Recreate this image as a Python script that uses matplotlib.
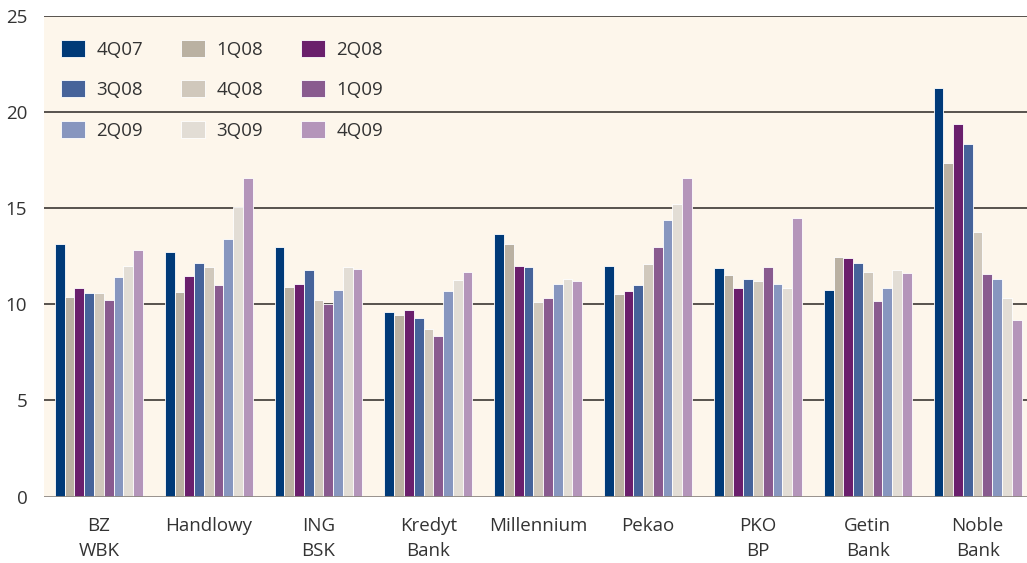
import matplotlib
matplotlib.use("Agg")
import matplotlib.pyplot as plt
import numpy as np

plt.rcParams['font.family'] = ['Open Sans', 'DejaVu Sans']

banks = ["BZ\nWBK", "Handlowy", "ING\nBSK", "Kredyt\nBank", "Millennium",
         "Pekao", "PKO\nBP", "Getin\nBank", "Noble\nBank"]
quarters = ["4Q07", "1Q08", "2Q08", "3Q08", "4Q08", "1Q09", "2Q09", "3Q09", "4Q09"]

# one row per quarter, one value per bank
q4_07 = [13.13, 12.71, 13.00, 9.59, 13.66, 12.00, 11.91, 10.77, 21.26]
q1_08 = [10.40, 10.65, 10.88, 9.43, 13.14, 10.55, 11.55, 12.48, 17.37]
q2_08 = [10.86, 11.48, 11.08, 9.69, 12.00, 10.71, 10.83, 12.43, 19.39]
q3_08 = [10.60, 12.15, 11.81, 9.28, 11.95, 11.02, 11.34, 12.17, 18.36]
q4_08 = [10.60, 11.94, 10.21, 8.71, 10.14, 12.11, 11.19, 11.70, 13.74]
q1_09 = [10.24, 11.01, 10.00, 8.35, 10.35, 12.99, 11.96, 10.15, 11.56]
q2_09 = [11.43, 13.38, 10.77, 10.67, 11.07, 14.39, 11.08, 10.83, 11.30]
q3_09 = [11.99, 15.08, 11.96, 11.24, 11.33, 15.22, 10.83, 11.76, 10.31]
q4_09 = [12.82, 16.58, 11.86, 11.70, 11.23, 16.56, 14.49, 11.65, 9.17]
series = [q4_07, q1_08, q2_08, q3_08, q4_08, q1_09, q2_09, q3_09, q4_09]

colors = ["#003a78", "#bab1a2", "#6a1f6c", "#46639a", "#d0c8bc",
          "#895b8f", "#8796bf", "#e2ddd5", "#b495ba"]

bg = "#fdf6eb"
fig = plt.figure(figsize=(10.27, 5.63), dpi=100)
ax = fig.add_axes([0.0428, 0.1181, 0.9572, 0.8535])
ax.set_facecolor(bg)

x = np.arange(len(banks))
n = len(series)
w = 0.8 / n
handles = []
for k in range(n):
    b = ax.bar(x - 0.4 + w * (k + 0.5), series[k], w, color=colors[k],
               edgecolor="white", linewidth=0.6, label=quarters[k], zorder=3)
    handles.append(b)

ax.set_ylim(0, 25)
ax.set_xlim(-0.5, 8.45)
ax.set_yticks([0, 5, 10, 15, 20, 25])
ax.set_xticks(x)
ax.set_xticklabels(banks, fontsize=13.5, color="#333333", linespacing=1.5)
ax.tick_params(axis="y", labelsize=13.5, labelcolor="#333333", length=0, pad=12)
ax.tick_params(axis="x", length=0, pad=15)
for v in [5, 10, 15, 20, 25]:
    ax.axhline(v, color="#4a4541", lw=1.3, zorder=1)
ax.axhline(0, color="#8e8984", lw=2, zorder=4)
for s in ax.spines.values():
    s.set_visible(False)

order = [0, 3, 6, 1, 4, 7, 2, 5, 8]
leg = ax.legend([handles[i] for i in order], [quarters[i] for i in order],
                ncol=3, loc="upper left", bbox_to_anchor=(0.0, 0.985),
                frameon=False, fontsize=13.5, handlelength=1.3, handleheight=1.0,
                handletextpad=0.6, columnspacing=2.0, labelspacing=1.15)
for t in leg.get_texts():
    t.set_color("#333333")

fig.savefig("out.png", dpi=100)
